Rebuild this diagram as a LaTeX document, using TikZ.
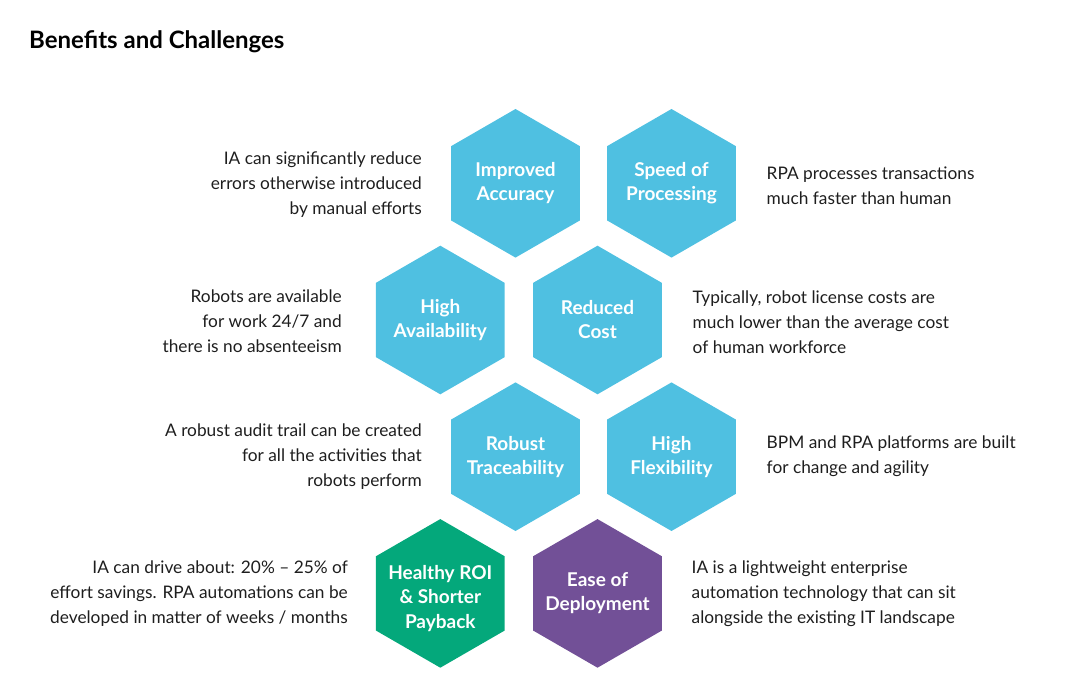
\documentclass[tikz,border=0pt]{standalone}
\usepackage{fontspec}
\setmainfont{Lato}
\usetikzlibrary{shapes.geometric}
\definecolor{hexblue}{RGB}{79,192,225}
\definecolor{hexgreen}{RGB}{4,168,123}
\definecolor{hexpurple}{RGB}{114,80,151}
\definecolor{textgray}{RGB}{30,30,30}
\begin{document}
\begin{tikzpicture}[x=1pt,y=-1pt,
  hex/.style={regular polygon, regular polygon sides=6, shape border rotate=30,
    minimum size=148.6pt, inner sep=0pt, draw=none, fill=#1},
  hexlabel/.style={text=white, font=\bfseries\fontsize{19}{24}\selectfont, align=center, inner sep=0pt},
  desc/.style={text=textgray, font=\fontsize{17.3}{25}\selectfont, inner sep=0pt},
  descl/.style={desc, anchor=east, align=right},
  descr/.style={desc, anchor=west, align=left}]
\useasboundingbox (0,0) rectangle (1080,698);

\node[anchor=west, inner sep=0pt, font=\bfseries\fontsize{24}{28}\selectfont, text=black] (title) at (29,42) {Benefits and Challenges};

% hexagons
\node[hex=hexblue] (h1) at (515.5,183.3) {};
\node[hex=hexblue] (h2) at (671.5,183.3) {};
\node[hex=hexblue] (h3) at (440.3,320) {};
\node[hex=hexblue] (h4) at (597.5,320) {};
\node[hex=hexblue] (h5) at (515.5,456.7) {};
\node[hex=hexblue] (h6) at (671.5,456.7) {};
\node[hex=hexgreen] (h7) at (440.3,593.4) {};
\node[hex=hexpurple] (h8) at (597.5,593.4) {};

% labels
\node[hexlabel] (l1) at (h1.center) {Improved\\Accuracy};
\node[hexlabel] (l2) at (h2.center) {Speed of\\Processing};
\node[hexlabel] (l3) at (h3.center) {High\\Availability};
\node[hexlabel] (l4) at (h4.center) {Reduced\\Cost};
\node[hexlabel] (l5) at (h5.center) {Robust\\Traceability};
\node[hexlabel] (l6) at (h6.center) {High\\Flexibility};
\node[hexlabel, font=\bfseries\fontsize{19}{24.5}\selectfont] (l7) at ([yshift=-5pt]h7.center) {Healthy ROI\\\& Shorter\\Payback};
\node[hexlabel] (l8) at (h8.center) {Ease of\\Deployment};

% descriptions
\node[descl] (d1) at (422,185) {IA can significantly reduce\\errors otherwise introduced\\by manual efforts};
\node[descr] (d2) at (766.5,185.5) {RPA processes transactions\\much faster than human};
\node[descl] (d3) at (342,321) {Robots are available\\for work 24/7 and\\there is no absenteeism};
\node[descr] (d4) at (692.5,322.5) {Typically, robot license costs are\\much lower than the average cost\\of human workforce};
\node[descl] (d5) at (422,457) {A robust audit trail can be created\\for all the activities that\\robots perform};
\node[descr] (d6) at (766.5,456.5) {BPM and RPA platforms are built\\for change and agility};
\node[descl] (d7) at (348,594) {IA can drive about: 20\% – 25\% of\\effort savings. RPA automations can be\\developed in matter of weeks / months};
\node[descr] (d8) at (691.5,594) {IA is a lightweight enterprise\\automation technology that can sit\\alongside the existing IT landscape};
\end{tikzpicture}
\end{document}
